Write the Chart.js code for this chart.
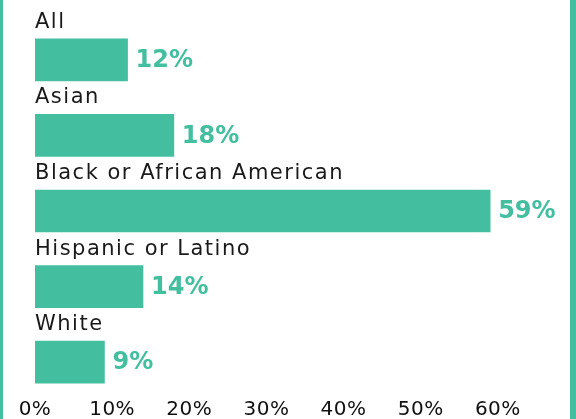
<!DOCTYPE html>
<html>
<head>
<meta charset="utf-8">
<script src="https://cdn.jsdelivr.net/npm/chart.js@4"></script>
<style>
  html, body { margin: 0; padding: 0; background: #fff; }
  #wrap { position: relative; width: 576px; height: 419px; overflow: hidden; }
  #edgeL { position: absolute; left: 0; top: 0; width: 3px; height: 419px; background: #43bfa0; }
  #edgeR { position: absolute; left: 570px; top: 0; width: 6px; height: 419px; background: #43bfa0; }
  canvas { position: absolute; left: 0; top: 0; }
</style>
</head>
<body>
<div id="wrap">
  <canvas id="chart" width="576" height="419"></canvas>
  <div id="edgeL"></div>
  <div id="edgeR"></div>
</div>
<script>
const groups = ["All", "Asian", "Black or African American", "Hispanic or Latino", "White"];
const shares = [12, 18, 59, 14, 9];

const teal = "#43bfa0";
const fontFamily = "'DejaVu Sans', sans-serif";

// a little tracking on all text drawn to the canvas
const tracking = {
  id: "tracking",
  beforeDraw(chart) {
    chart.ctx.letterSpacing = "0.5px";
  }
};

// group names sit above each bar, value labels just past the bar end
const barText = {
  id: "barText",
  afterDatasetsDraw(chart) {
    const ctx = chart.ctx;
    const meta = chart.getDatasetMeta(0);
    const x0 = chart.scales.x.getPixelForValue(0);
    ctx.save();
    meta.data.forEach((bar, i) => {
      const top = bar.y - bar.height / 2;
      ctx.fillStyle = "#1a1a1a";
      ctx.font = "21px " + fontFamily;
      ctx.letterSpacing = "1.5px";
      ctx.textAlign = "left";
      ctx.textBaseline = "alphabetic";
      ctx.fillText(groups[i], x0, top - 11);

      ctx.fillStyle = teal;
      ctx.font = "bold 24px " + fontFamily;
      ctx.letterSpacing = "0px";
      ctx.textBaseline = "middle";
      ctx.fillText(shares[i] + "%", bar.x + 8, bar.y + 1);
    });
    ctx.restore();
  }
};

new Chart(document.getElementById("chart"), {
  type: "bar",
  data: {
    labels: groups,
    datasets: [{
      data: shares,
      backgroundColor: teal,
      barThickness: 42
    }]
  },
  options: {
    indexAxis: "y",
    responsive: false,
    animation: false,
    layout: { padding: { left: 35, right: 1, top: 22, bottom: 0 } },
    plugins: { legend: { display: false }, tooltip: { enabled: false } },
    scales: {
      x: {
        min: 0,
        max: 70,
        grid: { display: false, drawTicks: false },
        border: { display: false },
        ticks: {
          stepSize: 10,
          padding: 0,
          color: "#111",
          font: { family: fontFamily, size: 20, lineHeight: 0.95 },
          callback: v => (v <= 60 ? v + "%" : "")
        }
      },
      y: { display: false }
    }
  },
  plugins: [tracking, barText]
});
</script>
</body>
</html>
